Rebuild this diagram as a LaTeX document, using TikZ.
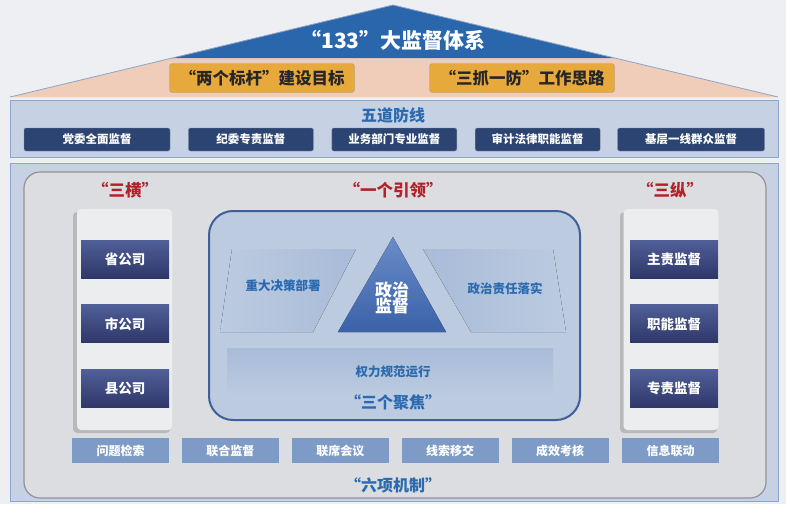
\documentclass[tikz,border=0pt]{standalone}
\usepackage{fontspec}
\setmainfont{Noto Sans CJK SC}
\usetikzlibrary{positioning,shapes}
\definecolor{pagebg}{HTML}{EEEFF2}
\definecolor{roofblue}{HTML}{2A66AC}
\definecolor{roofpeach}{HTML}{F0CDB9}
\definecolor{roofedge}{HTML}{8EA4C8}
\definecolor{gold}{HTML}{E8A93C}
\definecolor{goldedge}{HTML}{9C9A8E}
\definecolor{panelfill}{HTML}{C6D1E3}
\definecolor{paneledge}{HTML}{8FA6CC}
\definecolor{navy}{HTML}{2C4472}
\definecolor{innergray}{HTML}{DCDDE0}
\definecolor{titleblue}{HTML}{2A6AB0}
\definecolor{redlabel}{HTML}{B3222A}
\definecolor{colfill}{HTML}{ECEDEF}
\definecolor{orgtop}{HTML}{505F98}
\definecolor{orgbottom}{HTML}{2E3769}
\definecolor{corefill}{HTML}{BCCBE0}
\definecolor{coreedge}{HTML}{3E5F98}
\definecolor{facet}{HTML}{A8BBD8}
\definecolor{tritop}{HTML}{6A8CC8}
\definecolor{tribottom}{HTML}{3A62A8}
\definecolor{mechfill}{HTML}{7E9BC8}
\newcommand{\fsz}[1]{\fontsize{#1}{#1}\selectfont}
\tikzstyle{goal box} = [rectangle, draw=goldedge, fill=gold, rounded corners=3pt,
    minimum width=185pt, minimum height=29pt, text=black!85, font=\bfseries\fsz{16.5}]
\tikzstyle{line box} = [rectangle, fill=navy, rounded corners=2pt, draw=navy!60,
    minimum width=125pt, minimum height=23pt, text=white, font=\bfseries\fsz{11.5}]
\tikzstyle{panel} = [draw=paneledge, fill=panelfill, line width=0.8pt]
\tikzstyle{blue title} = [text=titleblue, font=\bfseries\fsz{16}]
\tikzstyle{red title} = [text=redlabel, font=\bfseries\fsz{16.5}]
\tikzstyle{column} = [rectangle, fill=colfill, rounded corners=4pt,
    minimum width=95pt, minimum height=221pt]
\tikzstyle{org box} = [rectangle, top color=orgtop, bottom color=orgbottom,
    minimum width=88pt, minimum height=38pt, text=white, font=\bfseries\fsz{13.5}]
\tikzstyle{facet text} = [text=titleblue, font=\bfseries\fsz{12.5}]
\tikzstyle{mech box} = [rectangle, fill=mechfill, minimum width=97pt,
    minimum height=25pt, text=white, font=\bfseries\fsz{12}]

\begin{document}
\begin{tikzpicture}[x=1pt, y=-1pt]
	\useasboundingbox (0,0) rectangle (786,504);
	\fill[pagebg] (0,0) rectangle (786,504);

	% roof
	\fill[roofpeach] (10,97) -- (393,5) -- (778,97) -- cycle;
	\fill[roofblue] (393,5) -- (172,58) -- (614,58) -- cycle;
	\draw[roofedge, line width=0.8pt] (10,97) -- (393,5) -- (778,97);
	\node[text=white, font=\bfseries\fsz{21}] (title) at (393,40) {“133”大监督体系};
	\node[goal box] (goal1) at (262,78) {“两个标杆”建设目标};
	\node[goal box] (goal2) at (522,78) {“三抓一防”工作思路};

	% five lines
	\draw[panel] (10,100) rectangle (778,157);
	\node[blue title] (lines) at (393,115) {五道防线};
	\node[line box, minimum width=146pt] (line1) at (97,139.5) {党委全面监督};
	\node[line box, right=18pt of line1] (line2) {纪委专责监督};
	\node[line box, right=18pt of line2] (line3) {业务部门专业监督};
	\node[line box, right=18pt of line3] (line4) {审计法律职能监督};
	\node[line box, minimum width=147pt, right=17pt of line4] (line5) {基层一线群众监督};

	% main panel
	\draw[panel] (10,163) rectangle (778,501);
	\draw[draw=gray!85, fill=innergray, line width=1.2pt, rounded corners=16pt]
		(24,172) rectangle (766,498);
	\node[red title] (heng) at (125,190) {“三横”};
	\node[red title] (lead) at (393,190) {“一个引领”};
	\node[red title] (zong) at (670,190) {“三纵”};

	% three horizontal
	\fill[gray!55, rounded corners=4pt] (73,212) rectangle (170,433);
	\node[column] (left col) at (124.5,319.5) {};
	\node[org box] (prov) at (125,259) {省公司};
	\node[org box, below=26.5pt of prov] (city) {市公司};
	\node[org box, below=26.5pt of city] (county) {县公司};

	% three vertical
	\fill[gray!55, rounded corners=4pt] (620,212) rectangle (717,433);
	\node[column] (right col) at (671,319.5) {};
	\node[org box] (main) at (674,259) {主责监督};
	\node[org box, below=26.5pt of main] (func) {职能监督};
	\node[org box, below=26.5pt of func] (spec) {专责监督};

	% core
	\node[rectangle, draw=coreedge, fill=corefill, line width=2pt, rounded corners=24pt,
		minimum width=371pt, minimum height=209pt] (core) at (394.5,315.5) {};
	\fill[left color=corefill, right color=facet] (232,249) -- (356,249) -- (313,332) -- (220,332) -- cycle;
	\fill[left color=facet, right color=corefill] (423,249) -- (553,249) -- (566,332) -- (471,332) -- cycle;
	\fill[top color=facet, bottom color=corefill] (227,348) rectangle (553,396);
	\fill[top color=tritop, bottom color=tribottom] (393,237) -- (338,332) -- (446,332) -- cycle;
	\node[text=white, font=\bfseries\fsz{17}, align=center] (politics) at (392,298) {政治\\[-1pt]监督};
	\node[facet text] (decide) at (283,286) {重大决策部署};
	\node[facet text] (duty) at (505,289) {政治责任落实};
	\node[facet text] (power) at (393,372) {权力规范运行};
	\node[blue title] (focus) at (393,402) {“三个聚焦”};

	% six mechanisms
	\node[mech box] (mech1) at (120.5,450.5) {问题检索};
	\node[mech box, right=12.5pt of mech1] (mech2) {联合监督};
	\node[mech box, right=12.5pt of mech2] (mech3) {联席会议};
	\node[mech box, right=12.5pt of mech3] (mech4) {线索移交};
	\node[mech box, right=12.5pt of mech4] (mech5) {成效考核};
	\node[mech box, right=13pt of mech5] (mech6) {信息联动};
	\node[blue title] (six) at (393,485) {“六项机制”};
\end{tikzpicture}
\end{document}
